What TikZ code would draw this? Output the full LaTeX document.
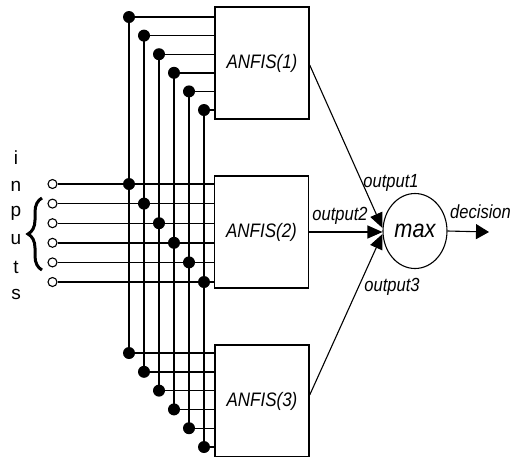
\documentclass[tikz,border=0pt]{standalone}
\usepackage{fontspec}
\setmainfont{Liberation Sans}
\newfontfamily\labfont[FakeStretch=0.87]{Liberation Sans}
\usetikzlibrary{arrows.meta,decorations.pathreplacing,shapes.geometric}
\begin{document}
\begin{tikzpicture}[x=1pt,y=-1pt,
  wire/.style={line width=1.4pt},
  dot/.style={circle,fill=black,inner sep=0pt,minimum width=11pt,minimum height=12pt},
  port/.style={circle,draw,line width=1.1pt,fill=white,inner sep=0pt,minimum size=9pt},
  anfis/.style={draw,line width=1.4pt,minimum width=94pt,minimum height=112pt,inner sep=0pt,font=\labfont\itshape\fontsize{19.5}{21}\selectfont},
  lab/.style={font=\labfont\itshape\fontsize{19}{21}\selectfont,inner sep=0pt},
  letter/.style={font=\fontsize{19}{21}\selectfont,inner sep=0pt},
  arr/.style={line width=1.1pt,-{Triangle[length=15pt,width=13pt]}}
]
\useasboundingbox (0,0) rectangle (513,456);
\node[anfis] (A1) at (262,63) {ANFIS(1)};
\node[anfis] (A2) at (261.5,232) {ANFIS(2)};
\node[anfis] (A3) at (262,401) {ANFIS(3)};
\node[ellipse,draw,line width=1.1pt,minimum width=64pt,minimum height=75pt,inner sep=0pt,font=\labfont\itshape\fontsize{25}{27}\selectfont] (mx) at (415,231) {max};
\foreach \i in {1,...,6}{
  \pgfmathsetmacro\xx{114+15*\i}
  \pgfmathsetmacro\yt{-1.6+18.6*\i}
  \pgfmathsetmacro\ym{164.4+19.6*\i}
  \pgfmathsetmacro\yb{334.2+18.8*\i}
  \node[dot] (t\i) at (\xx,\yt) {};
  \node[dot] (m\i) at (\xx,\ym) {};
  \node[dot] (b\i) at (\xx,\yb) {};
  \node[port] (p\i) at (52.5,\ym) {};
}
\foreach \i in {1,...,6}{
  \draw[wire] (t\i.center) -- (b\i.center);
  \draw[wire] (t\i.center) -- (t\i.center -| A1.west);
  \draw[wire] (p\i.east) -- (p\i.east -| A2.west);
  \draw[wire] (b\i.center) -- (b\i.center -| A3.west);
}
\draw[line width=3pt,decorate,decoration={brace,amplitude=14pt}] (42,270) -- (42,198);
\node[letter] (L1) at (16,158) {i};
\node[letter] (L2) at (16,186) {n};
\node[letter] (L3) at (16,213) {p};
\node[letter] (L4) at (16,240) {u};
\node[letter] (L5) at (16,267) {t};
\node[letter] (L6) at (16,294) {s};
\draw[arr] ([yshift=-2pt]A1.east) -- ([yshift=3pt]mx.west);
\draw[arr] (A2.east) -- (A2.east -| mx.west);
\draw[arr] ([yshift=6pt]A3.east) -- ([yshift=-3pt]mx.west);
\coordinate (dec) at (489,232);
\draw[line width=1.1pt,-{Triangle[length=13pt,width=15pt]}] (mx.east) -- (dec);
\node[lab] (o1) at (391,183) {output1};
\node[lab] (o2) at (340,216) {output2};
\node[lab] (o3) at (392,287) {output3};
\node[lab,anchor=west] (dl) at (450,212) {decision};
\end{tikzpicture}
\end{document}
